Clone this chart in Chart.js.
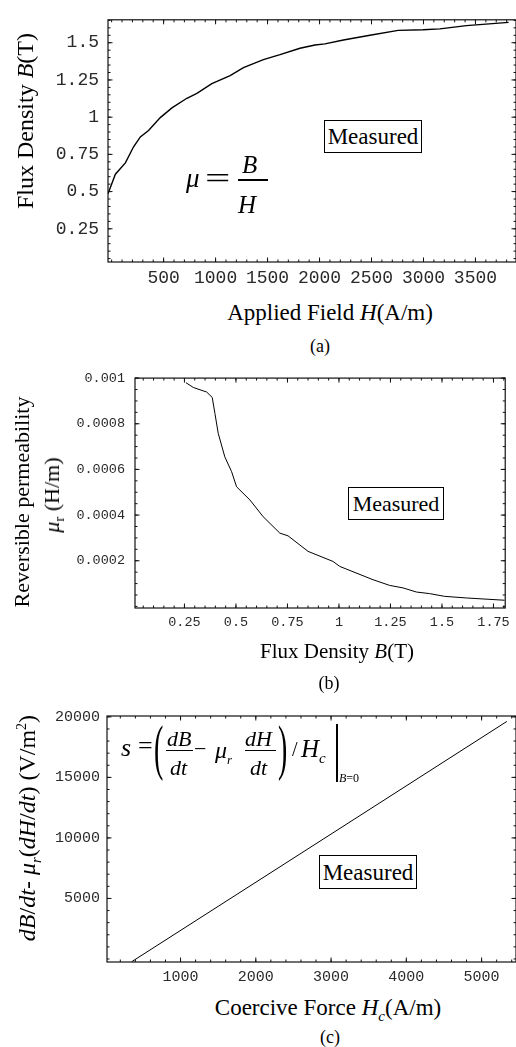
<!DOCTYPE html>
<html lang="en">

<head>
    <meta charset="UTF-8">
    <title>Measured B-H, reversible permeability and s</title>
    <style>
        body {
            margin: 0;
            background: #fff;
        }

        #page {
            position: relative;
            width: 516px;
            height: 1047px;
            overflow: hidden;
            font-family: 'Liberation Serif', 'Times New Roman', serif;
            color: #000;
        }

        canvas {
            position: absolute;
            left: 0;
        }

        .t {
            position: absolute;
            white-space: nowrap;
            line-height: 1;
        }

        .c {
            transform: translateX(-50%);
        }

        .v {
            transform: translate(-50%, -50%) rotate(-90deg);
        }

        .box {
            position: absolute;
            border: 1px solid #000;
            box-sizing: border-box;
            display: flex;
            align-items: center;
            justify-content: center;
            line-height: 1;
            background: #fff;
        }

        .bar {
            position: absolute;
            background: #000;
        }

        i { font-style: italic; }
        sub, sup { line-height: 0; }
    </style>
</head>

<body>
    <div id="page">
        <canvas id="chartA" width="516" height="300" style="top:0"></canvas>
        <canvas id="chartB" width="516" height="290" style="top:360px"></canvas>
        <canvas id="chartC" width="516" height="290" style="top:700px"></canvas>

        <!-- (a) -->
        <div class="t v" style="left:25px;top:121px;font-size:24px">Flux Density <i>B</i>(T)</div>
        <div class="t c" style="left:330px;top:301px;font-size:23px">Applied Field <i>H</i>(A/m)</div>
        <div class="t c" style="left:320px;top:337px;font-size:18px">(a)</div>
        <div class="box" style="left:324px;top:120px;width:98px;height:33px;font-size:23px">Measured</div>
        <div class="t" style="left:186px;top:165px;font-size:27px"><i>μ</i></div>
        <div class="t" style="left:205px;top:163px;font-size:30px;transform:scaleX(1.5);transform-origin:left">=</div>
        <div class="t" style="left:242px;top:152px;font-size:25px"><i>B</i></div>
        <div class="bar" style="left:238px;top:179px;width:30px;height:1.5px"></div>
        <div class="t" style="left:238px;top:192px;font-size:25px"><i>H</i></div>

        <!-- (b) -->
        <div class="t v" style="left:22px;top:502px;font-size:22px">Reversible permeability</div>
        <div class="t v" style="left:52px;top:495px;font-size:22px"><i>μ</i><sub style="font-size:15px">r</sub> (H/m)</div>
        <div class="t c" style="left:337px;top:641px;font-size:21px">Flux Density <i>B</i>(T)</div>
        <div class="t c" style="left:329px;top:674px;font-size:18px">(b)</div>
        <div class="box" style="left:348px;top:487px;width:96px;height:33px;font-size:22px">Measured</div>

        <!-- (c) -->
        <div class="t v" style="left:27px;top:828px;font-size:24px"><i>dB</i>/<i>dt</i>- <i>μ</i><sub style="font-size:15px"><i>r</i></sub>(<i>dH</i>/<i>dt</i>) (V/m<sup style="font-size:14px">2</sup>)</div>
        <div class="t c" style="left:328px;top:996px;font-size:23px">Coercive Force <i>H</i><sub style="font-size:15px"><i>c</i></sub>(A/m)</div>
        <div class="t c" style="left:330px;top:1028px;font-size:18px">(c)</div>
        <div class="box" style="left:319px;top:855px;width:98px;height:34px;font-size:23px">Measured</div>

        <div class="t" style="left:121px;top:735px;font-size:26px"><i>s</i></div>
        <div class="t" style="left:138px;top:733px;font-size:26px">=</div>
        <div class="t" style="left:154px;top:716px;font-size:62px;transform:scaleX(0.45);transform-origin:left">(</div>
        <div class="t" style="left:167px;top:728px;font-size:22px"><i>dB</i></div>
        <div class="bar" style="left:166px;top:750px;width:27px;height:1.3px"></div>
        <div class="t" style="left:170px;top:757px;font-size:22px"><i>dt</i></div>
        <div class="t" style="left:194px;top:738px;font-size:22px">−</div>
        <div class="t" style="left:215px;top:738px;font-size:24px"><i>μ</i><sub style="font-size:13px"><i>r</i></sub></div>
        <div class="t" style="left:245px;top:728px;font-size:22px"><i>dH</i></div>
        <div class="bar" style="left:245px;top:750px;width:31px;height:1.3px"></div>
        <div class="t" style="left:250px;top:757px;font-size:22px"><i>dt</i></div>
        <div class="t" style="left:278px;top:716px;font-size:62px;transform:scaleX(0.45);transform-origin:left">)</div>
        <div class="t" style="left:292px;top:739px;font-size:20px">/</div>
        <div class="t" style="left:301px;top:736px;font-size:25px"><i>H</i><sub style="font-size:15px"><i>c</i></sub></div>
        <div class="bar" style="left:336px;top:724px;width:1.5px;height:58px"></div>
        <div class="t" style="left:339px;top:772px;font-size:12px"><i>B</i>=0</div>
    </div>

    <script src="https://cdn.jsdelivr.net/npm/chart.js"></script>
    <script>
        // (a) B-H curve
        const hA = [-35, 36, 132, 211, 276, 355, 468, 580, 724, 820, 964, 1140, 1268, 1460, 1620, 1812, 1956, 2052, 2230, 2485, 2756, 2996, 3157, 3413, 3819];
        const bA = [0.486, 0.617, 0.693, 0.801, 0.867, 0.910, 0.997, 1.062, 1.127, 1.160, 1.225, 1.279, 1.333, 1.387, 1.420, 1.463, 1.485, 1.492, 1.518, 1.550, 1.583, 1.587, 1.593, 1.615, 1.637];
        const xTicksA = [500, 1000, 1500, 2000, 2500, 3000, 3500];
        const yTicksA = [0.25, 0.5, 0.75, 1, 1.25, 1.5];

        // (b) reversible permeability vs B
        const bB = [0.257, 0.293, 0.341, 0.358, 0.385, 0.398, 0.414, 0.446, 0.479, 0.503, 0.568, 0.632, 0.713, 0.753, 0.850, 0.971, 1.004, 1.165, 1.246, 1.311, 1.376, 1.440, 1.513, 1.618, 1.804];
        const muB = [0.000980, 0.000959, 0.000944, 0.000939, 0.000915, 0.000845, 0.000758, 0.000655, 0.000590, 0.000524, 0.000466, 0.000393, 0.000321, 0.000309, 0.000241, 0.000197, 0.000175, 0.000117, 0.000092, 0.000081, 0.000063, 0.000056, 0.000044, 0.000037, 0.000027];
        const xTicksB = [0.25, 0.5, 0.75, 1, 1.25, 1.5, 1.75];
        const yTicksB = [0.0002, 0.0004, 0.0006, 0.0008, 0.001];

        // (c) s vs coercive force
        const hcC = [350, 2840, 5335];
        const sC = [-230, 9680, 19620];
        const xTicksC = [1000, 2000, 3000, 4000, 5000];
        const yTicksC = [5000, 10000, 15000, 20000];

        Chart.defaults.font.family = "'Liberation Mono', 'Courier New', monospace";
        Chart.defaults.color = '#2a2a2a';

        // Mathematica-style frame with inward ticks on all four sides
        const frameTicks = {
            id: 'frameTicks',
            afterDatasetsDraw(chart, args, opts) {
                const { ctx, chartArea: a, scales } = chart;
                ctx.save();
                ctx.strokeStyle = '#111';
                ctx.lineWidth = 1.2;
                ctx.strokeRect(a.left, a.top, a.right - a.left, a.bottom - a.top);
                ctx.lineWidth = 1;
                const marks = (sc, step) => {
                    const out = [];
                    for (let k = Math.ceil(sc.min / step); k * step <= sc.max; k++) out.push(k * step);
                    return out;
                };
                const drawX = (v, len) => {
                    const p = scales.x.getPixelForValue(v);
                    ctx.beginPath();
                    ctx.moveTo(p, a.bottom); ctx.lineTo(p, a.bottom - len);
                    ctx.moveTo(p, a.top); ctx.lineTo(p, a.top + len);
                    ctx.stroke();
                };
                const drawY = (v, len) => {
                    const p = scales.y.getPixelForValue(v);
                    ctx.beginPath();
                    ctx.moveTo(a.left, p); ctx.lineTo(a.left + len, p);
                    ctx.moveTo(a.right, p); ctx.lineTo(a.right - len, p);
                    ctx.stroke();
                };
                marks(scales.x, opts.xMinor).forEach(v => drawX(v, 2.5));
                marks(scales.y, opts.yMinor).forEach(v => drawY(v, 2.5));
                scales.x.ticks.forEach(t => drawX(t.value, 4.5));
                scales.y.ticks.forEach(t => drawY(t.value, 4.5));
                ctx.restore();
            }
        };

        function makeChart(id, xs, ys, cfg) {
            const ctx = document.getElementById(id).getContext('2d');
            return new Chart(ctx, {
                type: 'line',
                data: {
                    datasets: [{
                        data: xs.map((x, i) => ({ x: x, y: ys[i] })),
                        borderColor: '#000',
                        borderWidth: cfg.lineWidth,
                        pointRadius: 0,
                        tension: 0,
                        fill: false,
                    }],
                },
                options: {
                    responsive: false,
                    animation: false,
                    events: [],
                    layout: { padding: { top: cfg.padTop, right: cfg.padRight, left: 0, bottom: 0 } },
                    plugins: {
                        legend: { display: false },
                        tooltip: { enabled: false },
                        frameTicks: { xMinor: cfg.xMinor, yMinor: cfg.yMinor },
                    },
                    scales: {
                        x: {
                            type: 'linear',
                            min: cfg.xMin,
                            max: cfg.xMax,
                            grid: { display: false, drawTicks: false },
                            border: { display: false },
                            ticks: {
                                autoSkip: false,
                                maxRotation: 0,
                                padding: cfg.xPad,
                                font: { size: cfg.fontX },
                                callback: v => String(v),
                            },
                            afterBuildTicks: s => { s.ticks = cfg.xTicks.map(v => ({ value: v })); },
                            afterFit: s => { s.height = cfg.xHeight; },
                        },
                        y: {
                            type: 'linear',
                            min: cfg.yMin,
                            max: cfg.yMax,
                            grid: { display: false, drawTicks: false },
                            border: { display: false },
                            ticks: {
                                autoSkip: false,
                                padding: cfg.yPad,
                                font: { size: cfg.fontY },
                                callback: v => String(v),
                            },
                            afterBuildTicks: s => { s.ticks = cfg.yTicks.map(v => ({ value: v })); },
                            afterFit: s => { s.width = cfg.yWidth; },
                        },
                    },
                },
                plugins: [frameTicks],
            });
        }

        makeChart('chartA', hA, bA, {
            lineWidth: 1.4, padTop: 12, padRight: 0, xMin: -35, xMax: 3890, yMin: 0.027, yMax: 1.654,
            xTicks: xTicksA, yTicks: yTicksA, xMinor: 100, yMinor: 0.05,
            fontX: 18, fontY: 18, xPad: 5, yPad: 9, xHeight: 38, yWidth: 108,
        });

        makeChart('chartB', bB, muB, {
            lineWidth: 1, padTop: 18, padRight: 10, xMin: 0.01, xMax: 1.807, yMin: -0.000007, yMax: 0.001,
            xTicks: xTicksB, yTicks: yTicksB, xMinor: 0.05, yMinor: 0.00005,
            fontX: 13.5, fontY: 13.5, xPad: 6, yPad: 10, xHeight: 42, yWidth: 135,
        });

        makeChart('chartC', hcC, sC, {
            lineWidth: 1, padTop: 8, padRight: 0, xMin: 23, xMax: 5457, yMin: -250, yMax: 20070,
            xTicks: xTicksC, yTicks: yTicksC, xMinor: 200, yMinor: 1000,
            fontX: 15, fontY: 15, xPad: 6, yPad: 7, xHeight: 28, yWidth: 107,
        });
    </script>
</body>

</html>
